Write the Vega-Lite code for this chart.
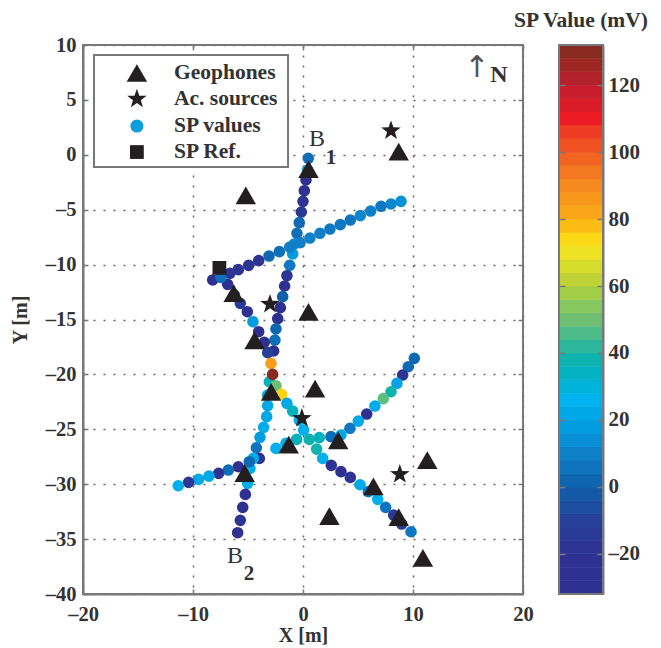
{"$schema":"https://vega.github.io/schema/vega-lite/v6.json","background":"white","padding":{"left":10,"top":9,"right":5,"bottom":1},"bounds":"flush","spacing":36,
"config":{"view":{"stroke":null},"font":"Liberation Serif","axis":{"grid":false,"labelFont":"Liberation Serif","labelFontWeight":"bold","labelFontSize":20.5,"labelColor":"#333333","titleFont":"Liberation Serif","titleFontWeight":"bold","titleFontSize":20,"titleColor":"#333333","domainColor":"#77787b","domainWidth":2,"tickColor":"#77787b","tickWidth":1.5}},
"datasets":{
"sp":[
{"x":0.48,"y":-0.32,"v":5},{"x":0.42,"y":-1.38,"v":20},{"x":0.27,"y":-2.29,"v":-20},{"x":0.12,"y":-3.27,"v":-20},{"x":0,"y":-4.24,"v":-18},{"x":-0.15,"y":-5.21,"v":-15},{"x":-0.34,"y":-6.18,"v":3},{"x":-0.55,"y":-7.15,"v":5},{"x":-0.79,"y":-8.12,"v":12},{"x":-0.94,"y":-9.03,"v":18},{"x":-1.21,"y":-10.07,"v":8},{"x":-1.46,"y":-11.01,"v":-18},{"x":-1.67,"y":-11.95,"v":-20},{"x":-1.85,"y":-12.92,"v":0},{"x":-2.06,"y":-13.92,"v":-20},{"x":-2.3,"y":-14.92,"v":-22},{"x":-2.46,"y":-15.86,"v":2},{"x":-2.55,"y":-16.87,"v":5},{"x":-2.67,"y":-17.87,"v":-22},
{"x":-8.21,"y":-11.4,"v":-20},{"x":-6.85,"y":-11.8,"v":-20},{"x":-6.24,"y":-12.77,"v":-20},{"x":-5.7,"y":-13.53,"v":-12},{"x":-5.06,"y":-14.29,"v":-22},{"x":-4.55,"y":-15.2,"v":18},{"x":-4.03,"y":-16.11,"v":-20},{"x":-3.52,"y":-17.08,"v":-20},{"x":-3.21,"y":-18.02,"v":-10},
{"x":-3.06,"y":-20.67,"v":35},{"x":-3.21,"y":-21.88,"v":22},{"x":-3.21,"y":-22.85,"v":22},{"x":-3.3,"y":-23.85,"v":22},{"x":-3.58,"y":-24.82,"v":24},{"x":-3.91,"y":-25.73,"v":18},{"x":-4.24,"y":-26.68,"v":6},{"x":-3.97,"y":-27.65,"v":-18},{"x":-4.52,"y":-27.65,"v":24},{"x":-4.82,"y":-28.56,"v":24},{"x":-5.03,"y":-29.92,"v":24},{"x":-5.24,"y":-30.93,"v":-20},{"x":-5.48,"y":-32.11,"v":-22},{"x":-5.7,"y":-33.29,"v":-18},{"x":-5.94,"y":-34.42,"v":-22},
{"x":8.91,"y":-4.24,"v":15},{"x":8,"y":-4.48,"v":12},{"x":7.09,"y":-4.69,"v":8},{"x":6.15,"y":-5.12,"v":10},{"x":5.21,"y":-5.54,"v":12},{"x":4.3,"y":-5.94,"v":7},{"x":3.39,"y":-6.36,"v":8},{"x":2.45,"y":-6.76,"v":8},{"x":1.54,"y":-7.15,"v":10},{"x":0.63,"y":-7.58,"v":10},{"x":-0.27,"y":-8,"v":10},{"x":-1.21,"y":-8.4,"v":10},{"x":-2.15,"y":-8.82,"v":5},{"x":-3.09,"y":-9.22,"v":3},{"x":-4.03,"y":-9.64,"v":-18},{"x":-4.94,"y":-10.07,"v":-18},{"x":-5.88,"y":-10.46,"v":-18},{"x":-6.64,"y":-10.79,"v":-18},{"x":-7.46,"y":-11.16,"v":5},
{"x":10.12,"y":-18.54,"v":3},{"x":9.57,"y":-19.3,"v":4},{"x":9.06,"y":-20.06,"v":-18},{"x":8.54,"y":-20.82,"v":20},{"x":8,"y":-21.58,"v":38},{"x":7.3,"y":-22.21,"v":48},{"x":6.54,"y":-22.88,"v":24},{"x":5.79,"y":-23.61,"v":-20},{"x":5.03,"y":-24.25,"v":22},{"x":4.27,"y":-24.91,"v":8},{"x":3.45,"y":-25.52,"v":22},{"x":2.54,"y":-25.67,"v":5},{"x":1.48,"y":-25.76,"v":35},{"x":-0.58,"y":-25.92,"v":35},{"x":-1.55,"y":-26.28,"v":25},{"x":-2.46,"y":-26.74,"v":25},
{"x":-4.88,"y":-27.95,"v":3},{"x":-5.88,"y":-28.41,"v":-20},{"x":-6.79,"y":-28.71,"v":5},{"x":-7.67,"y":-29.01,"v":-18},{"x":-8.55,"y":-29.26,"v":22},{"x":-9.49,"y":-29.56,"v":22},{"x":-10.4,"y":-29.83,"v":-15},{"x":-11.34,"y":-30.14,"v":25},
{"x":-2.91,"y":-19,"v":85},{"x":-2.76,"y":-20,"v":130},{"x":-2.46,"y":-21.03,"v":50},{"x":-1.94,"y":-21.82,"v":75},{"x":-1.46,"y":-22.64,"v":22},{"x":-0.94,"y":-23.34,"v":35},{"x":-0.34,"y":-24.16,"v":25},{"x":0.06,"y":-25.07,"v":25},{"x":0.57,"y":-25.92,"v":38},{"x":1.24,"y":-26.8,"v":38},{"x":1.79,"y":-27.65,"v":25},{"x":2.57,"y":-28.28,"v":-18},{"x":3.45,"y":-28.86,"v":-20},{"x":4.3,"y":-29.38,"v":-18},{"x":5.18,"y":-30.05,"v":24},{"x":5.94,"y":-30.68,"v":8},{"x":6.79,"y":-31.38,"v":25},{"x":7.51,"y":-32.11,"v":6},{"x":8.24,"y":-32.81,"v":-15},{"x":8.97,"y":-33.63,"v":-15},{"x":9.82,"y":-34.33,"v":8}],
"geo":[{"x":0.5,"y":-1.3},{"x":8.7,"y":0.3},{"x":-5.2,"y":-3.7},{"x":0.5,"y":-14.3},{"x":-6.3,"y":-12.6},{"x":-4.4,"y":-16.9},{"x":-2.9,"y":-21.6},{"x":1.1,"y":-21.3},{"x":-1.3,"y":-26.4},{"x":3.2,"y":-26},{"x":-5.3,"y":-29},{"x":6.4,"y":-30.2},{"x":8.7,"y":-33},{"x":2.4,"y":-32.9},{"x":11.3,"y":-27.8},{"x":10.9,"y":-36.7},{"x":-15.1,"y":7.45}],
"src":[{"x":8,"y":2.2},{"x":-3,"y":-13.6},{"x":-0.1,"y":-24},{"x":8.8,"y":-29.1},{"x":-15.1,"y":5.08}],
"ref":[{"x":-7.6,"y":-10.3},{"x":-15.1,"y":0.25}],
"key":[{"x":-11.73,"y":7.45,"t":"Geophones"},{"x":-11.73,"y":5.08,"t":"Ac. sources"},{"x":-11.73,"y":2.62,"t":"SP values"},{"x":-11.73,"y":0.25,"t":"SP Ref."}],
"bands":[{"lo":-32,"hi":-28,"v":-30},{"lo":-28,"hi":-24,"v":-26},{"lo":-24,"hi":-20,"v":-22},{"lo":-20,"hi":-16,"v":-18},{"lo":-16,"hi":-12,"v":-14},{"lo":-12,"hi":-8,"v":-10},{"lo":-8,"hi":-4,"v":-6},{"lo":-4,"hi":0,"v":-2},{"lo":0,"hi":4,"v":2},{"lo":4,"hi":8,"v":6},{"lo":8,"hi":12,"v":10},{"lo":12,"hi":16,"v":14},{"lo":16,"hi":20,"v":18},{"lo":20,"hi":24,"v":22},{"lo":24,"hi":28,"v":26},{"lo":28,"hi":32,"v":30},{"lo":32,"hi":36,"v":34},{"lo":36,"hi":40,"v":38},{"lo":40,"hi":44,"v":42},{"lo":44,"hi":48,"v":46},{"lo":48,"hi":52,"v":50},{"lo":52,"hi":56,"v":54},{"lo":56,"hi":60,"v":58},{"lo":60,"hi":64,"v":62},{"lo":64,"hi":68,"v":66},{"lo":68,"hi":72,"v":70},{"lo":72,"hi":76,"v":74},{"lo":76,"hi":80,"v":78},{"lo":80,"hi":84,"v":82},{"lo":84,"hi":88,"v":86},{"lo":88,"hi":92,"v":90},{"lo":92,"hi":96,"v":94},{"lo":96,"hi":100,"v":98},{"lo":100,"hi":104,"v":102},{"lo":104,"hi":108,"v":106},{"lo":108,"hi":112,"v":110},{"lo":112,"hi":116,"v":114},{"lo":116,"hi":120,"v":118},{"lo":120,"hi":124,"v":122},{"lo":124,"hi":128,"v":126},{"lo":128,"hi":132,"v":130}]
},
"hconcat":[
{"width":440,"height":549,
"resolve":{"axis":{"x":"independent","y":"independent"}},
"layer":[
{"data":{"values":[{"x":-20,"x2":20,"y":-40,"y2":10}]},"mark":{"type":"rect","fillOpacity":0,"stroke":"#77787b","strokeWidth":2},
"encoding":{"x":{"field":"x","type":"quantitative","scale":{"domain":[-20,20],"nice":false,"zero":false},"title":"X [m]","axis":{"orient":"bottom","values":[-20,-10,0,10,20],"grid":true,"gridDash":[2,8],"gridColor":"#666666","gridWidth":1.5,"tickSize":-5,"labelPadding":15,"titlePadding":1,"labelExpr":"replace(datum.label,'−','–')","labelFlush":false}},
"x2":{"field":"x2"},
"y":{"field":"y","type":"quantitative","scale":{"domain":[-40,10],"nice":false,"zero":false},"title":"Y [m]","axis":{"orient":"left","values":[-40,-35,-30,-25,-20,-15,-10,-5,0,5,10],"grid":true,"gridDash":[2,8],"gridColor":"#666666","gridWidth":1.5,"tickSize":-5,"labelPadding":12,"titlePadding":15,"labelExpr":"replace(datum.label,'−','–')"}},
"y2":{"field":"y2"}}},
{"data":{"values":[{"x":-20,"y":-40}]},"mark":{"type":"point","opacity":0},
"encoding":{"x":{"field":"x","type":"quantitative","scale":{"domain":[-20,20],"nice":false,"zero":false},"axis":{"orient":"top","values":[-20,-10,0,10,20],"grid":false,"labels":false,"title":null,"tickSize":-5,"domain":false}},
"y":{"field":"y","type":"quantitative","scale":{"domain":[-40,10],"nice":false,"zero":false},"axis":{"orient":"right","values":[-40,-35,-30,-25,-20,-15,-10,-5,0,5,10],"grid":false,"labels":false,"title":null,"tickSize":-5,"domain":false}}}},
{"data":{"values":[{"x":-19,"x2":-1.36,"y":9.09,"y2":-1.11}]},"mark":{"type":"rect","fill":"white","stroke":"#77787b","strokeWidth":2},
"encoding":{"x":{"field":"x","type":"quantitative","axis":null},"x2":{"field":"x2"},"y":{"field":"y","type":"quantitative","axis":null},"y2":{"field":"y2"}}},
{"data":{"name":"sp"},"mark":{"type":"circle","size":135,"opacity":1},
"encoding":{"x":{"field":"x","type":"quantitative","axis":null},"y":{"field":"y","type":"quantitative","axis":null},
"color":{"field":"v","type":"quantitative","legend":null,"scale":{"domain":[-32,-20,-10,0,10,20,27,33,40,50,60,72,80,90,100,110,120,132],"range":["#2e3192","#2e3192","#27409a","#0f5faa","#0f80c8","#00a3e4","#00b4ef","#0eb1c6","#1fb3a5","#6fbf73","#b5cf3a","#fbe61c","#f9ae17","#f58a1f","#ef5a24","#ed1c24","#be1e2d","#7f2a1e"]}}}},
{"data":{"values":[{"x":-15.1,"y":2.62}]},"mark":{"type":"circle","size":170,"opacity":1,"color":"#0d9ddb"},
"encoding":{"x":{"field":"x","type":"quantitative","axis":null},"y":{"field":"y","type":"quantitative","axis":null}}},
{"data":{"name":"geo"},"mark":{"type":"point","shape":"triangle-up","filled":true,"size":420,"color":"#231f20","opacity":1},
"encoding":{"x":{"field":"x","type":"quantitative","axis":null},"y":{"field":"y","type":"quantitative","axis":null}}},
{"data":{"name":"src"},"mark":{"type":"point","shape":"M0,-1L0.235,-0.324L0.951,-0.309L0.38,0.124L0.588,0.809L0,0.4L-0.588,0.809L-0.38,0.124L-0.951,-0.309L-0.235,-0.324Z","filled":true,"size":420,"color":"#231f20","opacity":1},
"encoding":{"x":{"field":"x","type":"quantitative","axis":null},"y":{"field":"y","type":"quantitative","axis":null}}},
{"data":{"name":"ref"},"mark":{"type":"point","shape":"square","filled":true,"size":190,"color":"#231f20","opacity":1},
"encoding":{"x":{"field":"x","type":"quantitative","axis":null},"y":{"field":"y","type":"quantitative","axis":null}}},
{"data":{"name":"key"},"mark":{"type":"text","align":"left","baseline":"middle","font":"Liberation Serif","fontWeight":"bold","fontSize":21.5,"color":"#333333"},
"encoding":{"x":{"field":"x","type":"quantitative","axis":null},"y":{"field":"y","type":"quantitative","axis":null},"text":{"field":"t"}}},
{"data":{"values":[{"x":1.27,"y":1.44,"t":"B"},{"x":-6.18,"y":-36.5,"t":"B"}]},"mark":{"type":"text","align":"center","baseline":"middle","font":"Liberation Serif","fontSize":24,"color":"#333333"},
"encoding":{"x":{"field":"x","type":"quantitative","axis":null},"y":{"field":"y","type":"quantitative","axis":null},"text":{"field":"t"}}},
{"data":{"values":[{"x":2.55,"y":-0.3,"t":"1"},{"x":-4.9,"y":-38.2,"t":"2"}]},"mark":{"type":"text","align":"center","baseline":"middle","font":"Liberation Serif","fontWeight":"bold","fontSize":21,"color":"#333333"},
"encoding":{"x":{"field":"x","type":"quantitative","axis":null},"y":{"field":"y","type":"quantitative","axis":null},"text":{"field":"t"}}},
{"data":{"values":[{"x":17.8,"y":7.3,"t":"N"}]},"mark":{"type":"text","align":"center","baseline":"middle","font":"Liberation Serif","fontWeight":"bold","fontSize":24,"color":"#333333"},
"encoding":{"x":{"field":"x","type":"quantitative","axis":null},"y":{"field":"y","type":"quantitative","axis":null},"text":{"field":"t"}}},
{"data":{"values":[{"x":15.8,"y":7.9,"t":"↑"}]},"mark":{"type":"text","align":"center","baseline":"middle","font":"DejaVu Sans","fontSize":30,"color":"#555555"},
"encoding":{"x":{"field":"x","type":"quantitative","axis":null},"y":{"field":"y","type":"quantitative","axis":null},"text":{"field":"t"}}}
]},
{"width":44,"height":549,
"title":{"text":"SP Value (mV)","font":"Liberation Serif","fontWeight":"bold","fontSize":21.5,"color":"#333333","anchor":"middle","offset":13},
"resolve":{"axis":{"y":"independent"}},
"layer":[
{"data":{"name":"bands"},"mark":{"type":"rect","strokeWidth":0.6},
"encoding":{"x":{"datum":0,"type":"quantitative","scale":{"domain":[0,1]},"axis":null},"x2":{"datum":1},"y":{"field":"lo","type":"quantitative","scale":{"domain":[-32,132],"nice":false,"zero":false},"title":null,"axis":{"orient":"right","grid":false,"values":[-20,0,20,40,60,80,100,120],"labelFontSize":21,"tickSize":-6,"domainWidth":2,"labelPadding":11,"zindex":1,"labelExpr":"replace(datum.label,'−','–')"}},"y2":{"field":"hi"},
"fill":{"field":"v","type":"quantitative","legend":null,"scale":{"domain":[-32,-20,-10,0,10,20,27,33,40,50,60,72,80,90,100,110,120,132],"range":["#2e3192","#2e3192","#27409a","#0f5faa","#0f80c8","#00a3e4","#00b4ef","#0eb1c6","#1fb3a5","#6fbf73","#b5cf3a","#fbe61c","#f9ae17","#f58a1f","#ef5a24","#ed1c24","#be1e2d","#7f2a1e"]}},
"stroke":{"field":"v","type":"quantitative","legend":null,"scale":{"domain":[-32,-20,-10,0,10,20,27,33,40,50,60,72,80,90,100,110,120,132],"range":["#2e3192","#2e3192","#27409a","#0f5faa","#0f80c8","#00a3e4","#00b4ef","#0eb1c6","#1fb3a5","#6fbf73","#b5cf3a","#fbe61c","#f9ae17","#f58a1f","#ef5a24","#ed1c24","#be1e2d","#7f2a1e"]}}}},
{"data":{"values":[{"a":0,"b":1,"lo":-32,"hi":132}]},"mark":{"type":"rect","fillOpacity":0,"stroke":"#77787b","strokeWidth":2},
"encoding":{"x":{"field":"a","type":"quantitative","scale":{"domain":[0,1]},"axis":null},"x2":{"field":"b"},"y":{"field":"lo","type":"quantitative","scale":{"domain":[-32,132],"nice":false,"zero":false},"title":null,"axis":{"orient":"left","grid":false,"values":[-20,0,20,40,60,80,100,120],"labels":false,"tickSize":-6,"domain":false,"zindex":1}},"y2":{"field":"hi"}}}
]}
]}
